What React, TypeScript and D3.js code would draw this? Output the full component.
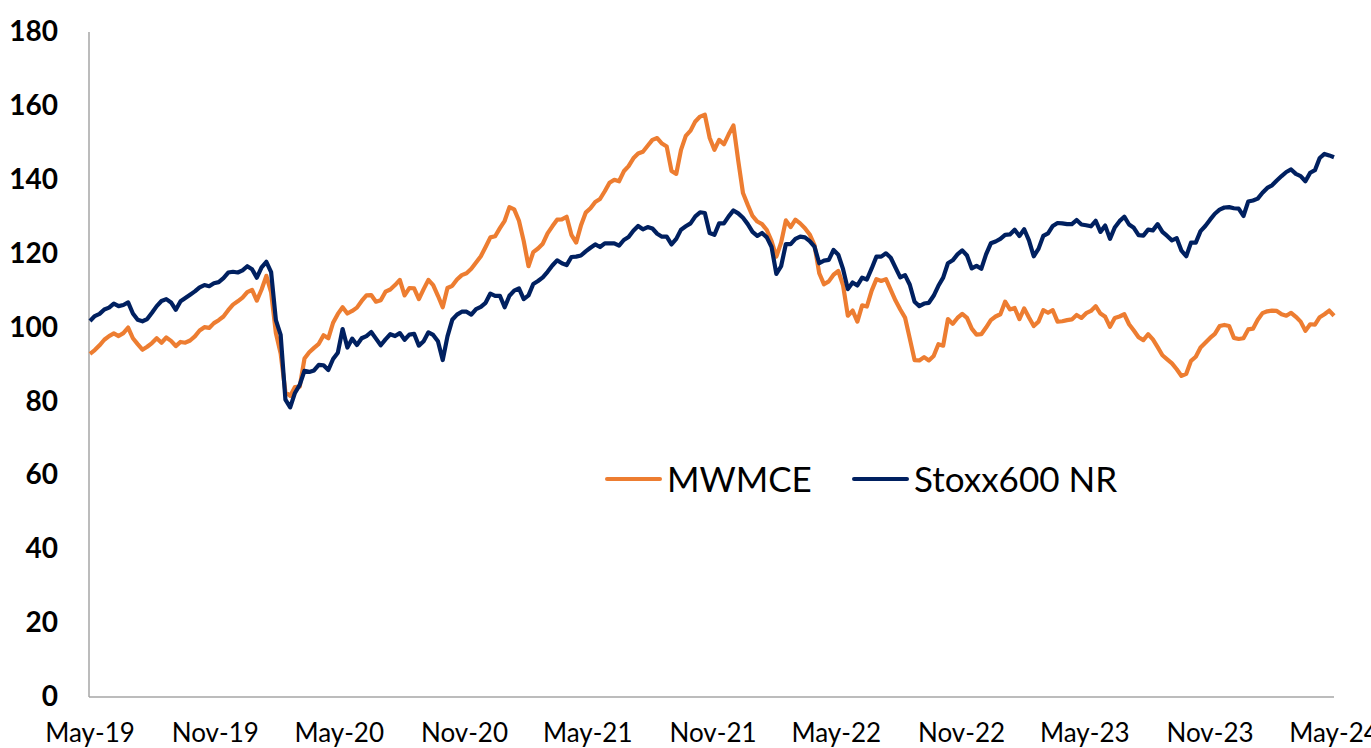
import React from "react";
import * as d3 from "d3";

// weekly closes, first one on startDate
const startDate = "2019-05-01";

const mwmce = [
  92.9, 93.9, 95.2, 96.7, 97.7, 98.4, 97.7, 98.5, 100.0, 97.1,
  95.5, 94.0, 94.8, 95.8, 97.1, 95.9, 97.3, 96.4, 95.0, 96.1,
  95.9, 96.5, 97.6, 99.2, 100.1, 99.9, 101.2, 102.0, 103.0, 104.7,
  106.2, 107.1, 108.1, 109.6, 110.2, 107.3, 110.3, 114.0, 109.5, 98.5,
  93.0, 82.5, 81.5, 83.9, 84.0, 91.6, 93.3, 94.5, 95.6, 97.9,
  97.1, 101.3, 103.7, 105.5, 103.8, 104.5, 105.4, 107.2, 108.7, 108.8,
  107.0, 107.4, 109.7, 110.3, 111.5, 112.9, 108.7, 110.7, 110.6, 107.7,
  110.4, 112.9, 111.5, 108.6, 105.5, 110.7, 111.3, 113.0, 114.2, 114.7,
  115.9, 117.6, 119.3, 121.8, 124.4, 124.7, 126.9, 128.9, 132.6, 132.0,
  128.9, 123.4, 116.6, 120.4, 121.4, 122.7, 125.5, 127.4, 129.2, 129.3,
  130.0, 125.1, 123.0, 127.6, 131.1, 132.3, 134.0, 134.8, 136.9, 139.2,
  140.0, 139.6, 142.3, 143.7, 145.8, 147.1, 147.6, 149.2, 150.8, 151.3,
  149.8, 149.0, 142.4, 141.6, 148.1, 151.9, 153.3, 155.8, 157.1, 157.6,
  151.4, 148.1, 150.8, 149.6, 152.3, 154.7, 145.2, 136.4, 133.2, 130.2,
  128.7, 128.0, 126.4, 123.4, 119.2, 123.0, 129.0, 127.2, 129.2, 128.2,
  126.9, 125.2, 122.3, 114.7, 111.7, 112.5, 114.3, 115.3, 111.4, 103.2,
  104.6, 101.6, 106.0, 105.7, 110.0, 113.1, 112.6, 113.1, 110.2, 107.3,
  104.9, 102.7, 97.0, 91.2, 91.1, 92.0, 91.1, 92.3, 95.5, 95.1,
  102.3, 101.0, 102.6, 103.7, 102.6, 99.7, 98.1, 98.2, 100.0, 102.0,
  103.0, 103.6, 107.0, 104.9, 105.3, 102.3, 105.2, 102.7, 100.4, 101.6,
  104.7, 104.0, 104.7, 101.6, 101.7, 102.0, 102.2, 103.4, 102.6, 103.9,
  104.5, 105.8, 103.8, 102.9, 100.2, 102.6, 103.0, 103.6, 100.9, 99.2,
  97.4, 96.6, 98.2, 96.8, 94.7, 92.5, 91.4, 90.3, 88.7, 86.9,
  87.5, 91.0, 92.1, 94.6, 95.9, 97.2, 98.3, 100.4, 100.7, 100.4,
  97.2, 96.9, 97.1, 99.5, 99.7, 102.1, 103.9, 104.4, 104.6, 104.5,
  103.6, 103.2, 104.0, 102.9, 101.6, 99.1, 100.9, 100.8, 102.8, 103.6,
  104.6, 103.2,
];

const stoxx600 = [
  101.8, 103.1, 103.7, 104.9, 105.4, 106.5, 105.8, 106.1, 106.8, 103.8,
  102.1, 101.7, 102.3, 104.0, 105.8, 107.2, 107.7, 106.8, 104.8, 107.1,
  108.0, 108.9, 109.8, 110.9, 111.5, 111.2, 112.0, 112.3, 113.4, 114.9,
  115.1, 114.9, 115.5, 116.6, 115.8, 113.5, 116.3, 117.8, 115.0, 102.0,
  98.0, 80.5, 78.4, 82.3, 84.5, 88.3, 88.0, 88.4, 89.9, 89.8,
  88.5, 91.5, 93.2, 99.6, 94.6, 97.0, 95.3, 97.1, 97.7, 98.8,
  97.0, 95.2, 96.8, 98.2, 97.7, 98.5, 96.7, 98.1, 98.3, 95.1,
  96.3, 98.7, 98.0, 96.3, 91.2, 97.6, 102.1, 103.5, 104.3, 104.3,
  103.5, 105.0, 105.6, 106.7, 109.2, 108.6, 108.6, 105.5, 108.6, 110.0,
  110.6, 107.7, 108.7, 111.8, 112.6, 113.6, 115.1, 116.8, 118.2, 117.4,
  116.9, 119.1, 119.2, 119.5, 120.6, 121.6, 122.5, 121.8, 122.8, 122.8,
  122.8, 122.2, 123.7, 124.5, 126.2, 127.5, 126.6, 127.2, 126.8, 125.4,
  124.6, 124.6, 122.5, 124.0, 126.5, 127.4, 128.2, 130.1, 131.2, 131.0,
  125.6, 125.1, 128.2, 128.2, 130.1, 131.7, 130.9, 129.7, 128.0, 125.9,
  124.8, 125.6, 124.4, 121.8, 114.5, 116.6, 122.6, 122.6, 124.0, 124.6,
  124.4, 123.4, 121.9, 117.4, 118.1, 118.3, 121.0, 119.7, 115.8, 110.4,
  112.2, 111.4, 113.5, 113.0, 116.0, 119.2, 119.2, 120.1, 118.9, 116.2,
  113.6, 114.2, 111.6, 107.0, 105.8, 106.5, 106.7, 108.6, 111.3, 113.5,
  117.4, 118.2, 119.8, 120.9, 119.5, 116.0, 116.7, 115.9, 119.8, 122.8,
  123.3, 124.0, 125.1, 125.2, 126.5, 124.8, 126.6, 123.6, 119.3, 121.3,
  124.8, 125.5, 127.5, 128.3, 128.2, 128.0, 128.0, 129.1, 127.9, 127.7,
  127.4, 128.9, 125.9, 127.6, 124.0, 127.1, 128.8, 130.0, 127.9, 127.0,
  125.0, 124.9, 126.5, 126.3, 128.0, 125.9, 124.8, 123.6, 124.2, 120.8,
  119.3, 123.0, 123.0, 126.1, 127.5, 129.2, 130.8, 131.9, 132.5, 132.6,
  132.3, 132.2, 130.2, 134.1, 134.4, 134.9, 136.5, 137.8, 138.5, 139.8,
  141.0, 142.1, 142.8, 141.6, 141.0, 139.6, 141.9, 142.6, 145.9, 147.0,
  146.6, 146.1,
];

const xTickLabels = [
  "May-19", "Nov-19", "May-20", "Nov-20", "May-21", "Nov-21",
  "May-22", "Nov-22", "May-23", "Nov-23", "May-24",
];
const yTicks = [0, 20, 40, 60, 80, 100, 120, 140, 160, 180];
const seriesNames = ["MWMCE", "Stoxx600 NR"];
const seriesColors = ["#ED7D31", "#002060"];

export default function App() {
  const width = 1371;
  const height = 748;
  const left = 89;
  const right = 1334;
  const top = 32;
  const bottom = 697;

  const parseTick = d3.timeParse("%b-%y");
  const start = d3.timeParse("%Y-%m-%d")(startDate) as Date;
  const dates = mwmce.map((_, i) => d3.timeDay.offset(start, i * 7));
  const tickDates = xTickLabels.map(t => parseTick(t) as Date);

  const x = d3
    .scaleTime()
    .domain([tickDates[0], tickDates[tickDates.length - 1]])
    .range([left + 1, right]);
  const y = d3.scaleLinear().domain([0, 180]).range([bottom, top]);

  const line = d3
    .line<number>()
    .x((_, i) => x(dates[i]))
    .y(d => y(d));

  const series = [mwmce, stoxx600];

  return (
    <div style={{ position: "fixed", left: 0, top: 0 }}>
      <svg width={width} height={height} style={{ display: "block", background: "#fff" }}>
        {/* axes */}
        <line x1={left} x2={left} y1={top} y2={bottom} stroke="#A6A6A6" strokeWidth={1.5} />
        <line x1={left} x2={right} y1={bottom} y2={bottom} stroke="#A6A6A6" strokeWidth={1.5} />

        {yTicks.map(t => (
          <text
            key={t}
            x={58}
            y={y(t) - 1}
            dy="0.36em"
            textAnchor="end"
            fontFamily="Lato"
            fontWeight="bold"
            fontSize={28}
            fill="#000"
          >
            {t}
          </text>
        ))}

        {xTickLabels.map((t, i) => (
          <text
            key={t}
            x={x(tickDates[i])}
            y={742}
            textAnchor="middle"
            fontFamily="Lato"
            fontSize={26}
            fill="#000"
          >
            {t}
          </text>
        ))}

        {series.map((s, i) => (
          <path
            key={seriesNames[i]}
            d={line(s) || ""}
            fill="none"
            stroke={seriesColors[i]}
            strokeWidth={4.2}
            strokeLinejoin="round"
          />
        ))}

        {/* legend */}
        {seriesNames.map((name, i) => {
          const lx = i === 0 ? 607 : 854;
          return (
            <g key={name}>
              <line
                x1={lx}
                x2={lx + 53}
                y1={479}
                y2={479}
                stroke={seriesColors[i]}
                strokeWidth={4}
                strokeLinecap="round"
              />
              <text x={lx + 60} y={492} fontFamily="Lato" fontSize={35} fill="#000">
                {name}
              </text>
            </g>
          );
        })}
      </svg>
    </div>
  );
}
